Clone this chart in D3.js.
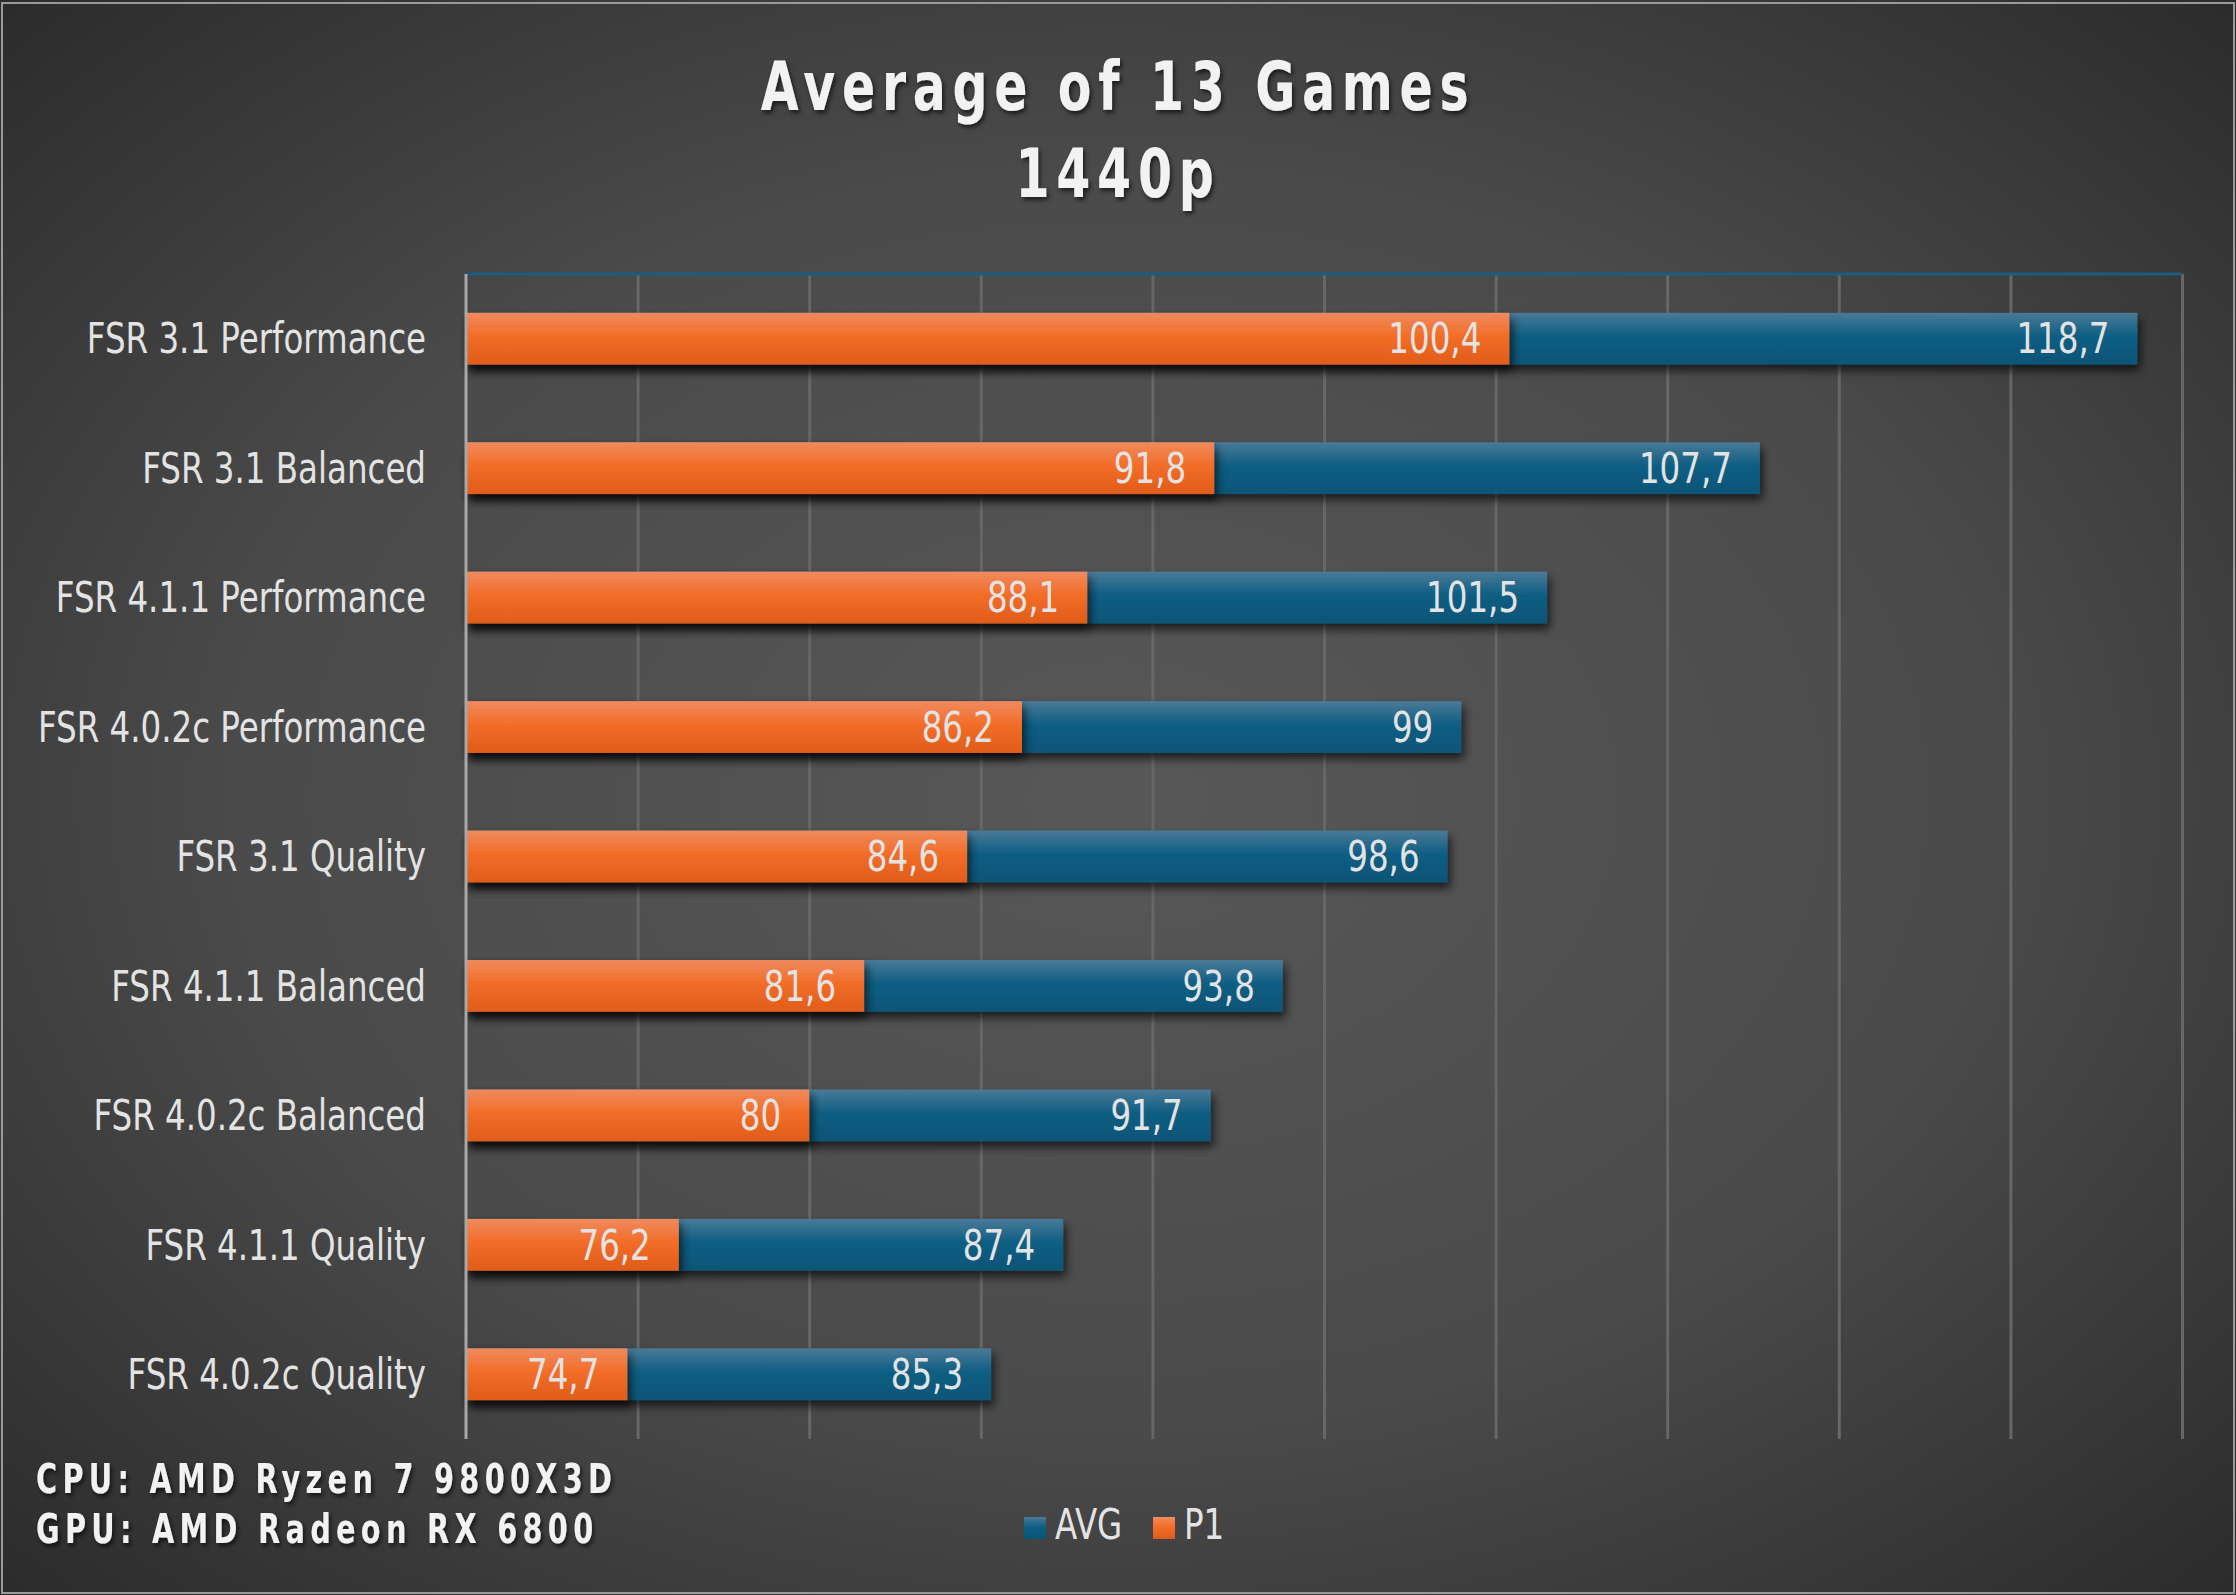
<!DOCTYPE html>
<html>
<head>
<meta charset="utf-8">
<script src="https://cdn.jsdelivr.net/npm/d3@7"></script>
<style>
  html, body { margin: 0; padding: 0; background: #2a2a2a; }
  svg { display: block; }
</style>
</head>
<body>
<svg id="chart" width="2236" height="1595"></svg>
<script>
// ---------------- data ----------------
const categories = [
  "FSR 3.1 Performance",
  "FSR 3.1 Balanced",
  "FSR 4.1.1 Performance",
  "FSR 4.0.2c Performance",
  "FSR 3.1 Quality",
  "FSR 4.1.1 Balanced",
  "FSR 4.0.2c Balanced",
  "FSR 4.1.1 Quality",
  "FSR 4.0.2c Quality"
];
const avgValues = [118.7, 107.7, 101.5, 99, 98.6, 93.8, 91.7, 87.4, 85.3];
const p1Values  = [100.4, 91.8, 88.1, 86.2, 84.6, 81.6, 80, 76.2, 74.7];
const seriesNames = ["AVG", "P1"];
const xTicks = [70, 75, 80, 85, 90, 95, 100, 105, 110, 115, 120];
const titleLines = ["Average of 13 Games", "1440p"];
const footerLines = ["CPU: AMD Ryzen 7 9800X3D", "GPU: AMD Radeon RX 6800"];

// ---------------- layout ----------------
const W = 2236, H = 1595;
const plot = { left: 466, right: 2182, top: 274, bottom: 1439 };
const svg = d3.select("#chart");
const defs = svg.append("defs");

const bg = defs.append("radialGradient").attr("id", "bg")
  .attr("cx", "0.5").attr("cy", "0.5").attr("r", "0.72");
bg.append("stop").attr("offset", "0%").attr("stop-color", "#585858");
bg.append("stop").attr("offset", "55%").attr("stop-color", "#4a4a4a");
bg.append("stop").attr("offset", "100%").attr("stop-color", "#2a2a2a");

function vgrad(id, c0, c1, c2) {
  const g = defs.append("linearGradient").attr("id", id)
    .attr("x1", 0).attr("y1", 0).attr("x2", 0).attr("y2", 1);
  g.append("stop").attr("offset", "0%").attr("stop-color", c0);
  g.append("stop").attr("offset", "45%").attr("stop-color", c1);
  g.append("stop").attr("offset", "100%").attr("stop-color", c2);
}
vgrad("gAvg", "#4a7a98", "#0f5e83", "#0a5577");
vgrad("gP1", "#f08a5e", "#f26d28", "#e05c1a");

const sh = defs.append("filter").attr("id", "barShadow")
  .attr("x", "-5%").attr("y", "-30%").attr("width", "115%").attr("height", "190%");
sh.append("feDropShadow").attr("dx", 3).attr("dy", 6).attr("stdDeviation", 5)
  .attr("flood-color", "#000").attr("flood-opacity", 0.65);

const tsh = defs.append("filter").attr("id", "textShadow")
  .attr("x", "-10%").attr("y", "-30%").attr("width", "120%").attr("height", "170%");
tsh.append("feDropShadow").attr("dx", 2).attr("dy", 3).attr("stdDeviation", 2)
  .attr("flood-color", "#000").attr("flood-opacity", 0.6);

// background + border
svg.append("rect").attr("x", 0).attr("y", 0).attr("width", W).attr("height", H)
  .attr("fill", "url(#bg)");
svg.append("rect").attr("x", 2).attr("y", 3).attr("width", W - 4).attr("height", H - 5)
  .attr("fill", "none").attr("stroke", "#9a9a9a").attr("stroke-width", 2);

// scales
const x = d3.scaleLinear().domain([70, 120]).range([plot.left, plot.right]);
const y = d3.scaleBand().domain(categories).range([plot.top, plot.bottom])
  .paddingInner(0.6).paddingOuter(0.3);

// gridlines via axis
const gridAxis = d3.axisTop(x).tickValues(xTicks.slice(1))
  .tickSize(-(plot.bottom - plot.top)).tickFormat("");
const gg = svg.append("g").attr("transform", `translate(0,${plot.top})`).call(gridAxis);
gg.select(".domain").remove();
gg.selectAll(".tick line").attr("stroke", "#676767").attr("stroke-width", 3);

// top border line of plot
svg.append("line").attr("x1", plot.left).attr("x2", plot.right)
  .attr("y1", plot.top).attr("y2", plot.top)
  .attr("stroke", "#1b5d7e").attr("stroke-width", 3);

// bars
const rows = categories.map((c, i) => ({ c, avg: avgValues[i], p1: p1Values[i] }));
const fmt = v => d3.format(".1~f")(v).replace(".", ",");
const labelFont = "'Liberation Sans Narrow', 'Arial Narrow', 'DejaVu Sans Condensed', sans-serif";
const SX = 0.86; // horizontal squeeze to mimic a narrow face

const barsG = svg.append("g");
barsG.selectAll("rect.avg").data(rows).join("rect").attr("class", "avg")
  .attr("x", x(70)).attr("y", d => y(d.c))
  .attr("width", d => x(d.avg) - x(70)).attr("height", y.bandwidth())
  .attr("fill", "url(#gAvg)").attr("filter", "url(#barShadow)");
barsG.selectAll("rect.p1").data(rows).join("rect").attr("class", "p1")
  .attr("x", x(70)).attr("y", d => y(d.c))
  .attr("width", d => x(d.p1) - x(70)).attr("height", y.bandwidth())
  .attr("fill", "url(#gP1)").attr("filter", "url(#barShadow)");

// value labels
const lblG = svg.append("g").attr("font-family", labelFont).attr("font-size", 42)
  .attr("fill", "#e3e3e3").attr("text-anchor", "end");
lblG.selectAll("text.avg").data(rows).join("text")
  .attr("transform", d => `translate(${x(d.avg) - 28},${y(d.c) + y.bandwidth() / 2}) scale(${SX},1)`)
  .attr("dy", "0.35em").text(d => fmt(d.avg));
lblG.selectAll("text.p1").data(rows).join("text")
  .attr("transform", d => `translate(${x(d.p1) - 28},${y(d.c) + y.bandwidth() / 2}) scale(${SX},1)`)
  .attr("dy", "0.35em").text(d => fmt(d.p1));

// category axis
const yAxis = d3.axisLeft(y).tickSize(0).tickPadding(40);
const ya = svg.append("g").attr("transform", `translate(${plot.left},0)`).call(yAxis);
ya.select(".domain").attr("stroke", "#a8a8a8").attr("stroke-width", 3)
  .attr("d", `M0,${plot.top}V${plot.bottom}`);
ya.selectAll(".tick text").attr("font-family", labelFont).attr("font-size", 42)
  .attr("fill", "#e3e3e3").attr("dy", "0.35em")
  .attr("x", -40 / SX).attr("transform", `scale(${SX},1)`);

// title
const titleFont = "'Liberation Sans Narrow', 'Arial Narrow', 'DejaVu Sans Condensed', sans-serif";
const TS = 0.8;
svg.append("g").attr("filter", "url(#textShadow)")
  .selectAll("text").data(titleLines).join("text")
  .attr("transform", (d, i) => `translate(1118,${110 + i * 87}) scale(${TS},1)`)
  .attr("text-anchor", "middle").attr("font-family", titleFont)
  .attr("font-weight", "bold").attr("font-size", 68).attr("letter-spacing", 8.4)
  .attr("fill", "#f2f2f2").text(d => d);

// footer
svg.append("g").attr("filter", "url(#textShadow)")
  .selectAll("text").data(footerLines).join("text")
  .attr("transform", (d, i) => `translate(36,${1493 + i * 50}) scale(${TS},1)`)
  .attr("font-family", titleFont).attr("font-weight", "bold")
  .attr("font-size", 40).attr("letter-spacing", 6.6)
  .attr("fill", "#f2f2f2").text(d => d);

// legend
const legendColors = { AVG: "url(#gAvg)", P1: "url(#gP1)" };
const legendX = [1024, 1153];
const lg = svg.append("g");
seriesNames.forEach((s, i) => {
  lg.append("rect").attr("x", legendX[i]).attr("y", 1517).attr("width", 22).attr("height", 22)
    .attr("fill", legendColors[s]);
  lg.append("text").attr("transform", `translate(${legendX[i] + 31},1539) scale(${SX},1)`)
    .attr("font-family", labelFont).attr("font-size", 42).attr("fill", "#e3e3e3").text(s);
});
</script>
</body>
</html>
